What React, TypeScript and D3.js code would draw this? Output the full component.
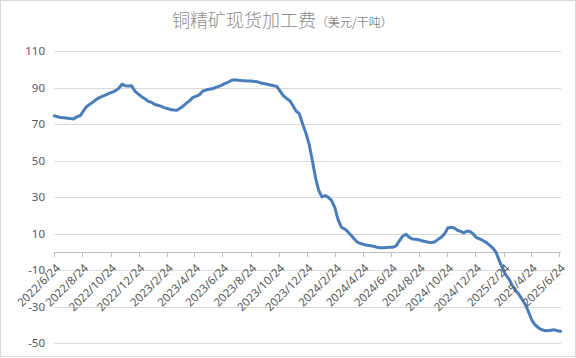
import React from "react";
import * as d3 from "d3";

const titleMain = "铜精矿现货加工费";
const titleUnit = "（美元/干吨）";

const startDate = "2022-06-24";
// weekly spot TC values (USD/dmt), one per week from startDate
const tcValues: number[] = [
  74.5, 74.0, 73.6, 73.4, 73.2, 73.0, 72.8, 74.0, 74.5, 77.0,
  79.5, 80.8, 82.0, 83.4, 84.5, 85.3, 86.0, 86.8, 87.5, 88.3,
  89.6, 91.8, 91.0, 90.8, 91.0, 88.0, 86.5, 85.0, 84.0, 82.5,
  82.0, 80.8, 80.3, 79.8, 79.0, 78.5, 78.0, 77.7, 77.5, 78.6,
  79.9, 81.5, 82.8, 84.6, 85.3, 86.0, 88.0, 88.6, 89.0, 89.3,
  90.0, 90.6, 91.3, 92.3, 93.0, 94.0, 94.2, 94.0, 93.8, 93.7,
  93.6, 93.5, 93.3, 93.1, 92.5, 92.2, 91.8, 91.4, 91.0, 90.6,
  88.0, 85.5, 84.0, 82.8, 80.0, 77.0, 75.5, 70.0, 65.0, 59.0,
  50.0, 40.5, 33.5, 30.0, 30.8, 29.8, 28.0, 24.0, 17.5, 13.5,
  12.5, 11.0, 9.0, 7.0, 5.2, 4.5, 4.0, 3.6, 3.3, 3.0,
  2.5, 2.2, 2.2, 2.3, 2.4, 2.5, 3.2, 6.0, 8.5, 9.6,
  8.0, 7.0, 6.8, 6.6, 6.0, 5.6, 5.2, 5.0, 5.5, 6.8,
  8.0, 9.8, 13.0, 13.4, 13.0, 11.8, 11.2, 10.4, 11.4, 11.0,
  9.5, 7.6, 7.0, 6.0, 5.0, 3.5, 2.0, -0.5, -5.0, -9.3,
  -12.8, -15.0, -18.5, -21.2, -23.2, -26.0, -28.8, -32.8, -37.3, -40.0,
  -41.5, -42.6, -43.2, -43.3, -43.0, -42.8, -43.3, -43.5,
];

const xTickLabels = [
  "2022/6/24", "2022/8/24", "2022/10/24", "2022/12/24", "2023/2/24",
  "2023/4/24", "2023/6/24", "2023/8/24", "2023/10/24", "2023/12/24",
  "2024/2/24", "2024/4/24", "2024/6/24", "2024/8/24", "2024/10/24",
  "2024/12/24", "2025/2/24", "2025/4/24", "2025/6/24",
];

const yTicks = [110, 90, 70, 50, 30, 10, -10, -30, -50];

const W = 576;
const H = 358;

const parseSlash = d3.timeParse("%Y/%m/%d");
const parseIso = d3.timeParse("%Y-%m-%d");

export default function App() {
  const start = parseIso(startDate) as Date;
  const tickDates = xTickLabels.map((s) => parseSlash(s) as Date);
  const data = tcValues.map((v, i) => ({ date: d3.timeWeek.offset(start, i), v }));

  const x = d3
    .scaleTime()
    .domain([tickDates[0], tickDates[tickDates.length - 1]])
    .range([54.3, 559.3]);
  const y = d3.scaleLinear().domain([-50, 110]).range([343, 51]);

  const line = d3
    .line<{ date: Date; v: number }>()
    .x((d) => x(d.date))
    .y((d) => y(d.v));

  const y0 = y(0);
  const labelFont = "'Noto Sans', 'Noto Sans CJK SC', sans-serif";

  return (
    <svg
      width={W}
      height={H}
      style={{ position: "absolute", left: 0, top: 0, background: "#fff" }}
    >
      <rect x={0.5} y={0.5} width={W - 1} height={356} fill="#fff" stroke="#d9d9d9" />
      {/* title */}
      <text
        x={172}
        y={27}
        fontWeight={300}
        style={{ fontFamily: "'Noto Sans CJK SC', sans-serif" }}
      >
        <tspan fontSize={18} fill="#8c8c8c">{titleMain}</tspan>
        <tspan fontSize={12} fill="#595959">{titleUnit}</tspan>
      </text>
      {/* gridlines */}
      {yTicks.map((t) => (
        <line
          key={"g" + t}
          x1={54.3}
          x2={561}
          y1={Math.round(y(t)) + 0.5}
          y2={Math.round(y(t)) + 0.5}
          stroke="#d9d9d9"
          strokeWidth={1}
        />
      ))}
      {/* y labels */}
      {yTicks.map((t) => (
        <text
          key={"yl" + t}
          x={45}
          y={y(t) + 4}
          textAnchor="end"
          fontSize={11.5}
          fill="#595959"
          style={{ fontFamily: labelFont }}
        >
          {t}
        </text>
      ))}
      {/* x axis at zero */}
      <line
        x1={54.3}
        x2={561}
        y1={Math.round(y0) + 0.5}
        y2={Math.round(y0) + 0.5}
        stroke="#bfbfbf"
      />
      {tickDates.map((d, i) => (
        <line
          key={"t" + i}
          x1={Math.round(x(d)) + 0.5}
          x2={Math.round(x(d)) + 0.5}
          y1={Math.round(y0)}
          y2={Math.round(y0) + 5}
          stroke="#bfbfbf"
        />
      ))}
      {/* series */}
      <path
        d={line(data) || ""}
        fill="none"
        stroke="#4a7ebb"
        strokeWidth={3}
        strokeLinejoin="round"
        strokeLinecap="round"
      />
      {/* x labels */}
      {tickDates.map((d, i) => (
        <text
          key={"xl" + i}
          transform={`translate(${x(d) + 6.5},${y0 + 17}) rotate(-45)`}
          textAnchor="end"
          fontSize={11.5}
          fill="#595959"
          style={{ fontFamily: labelFont }}
        >
          {xTickLabels[i]}
        </text>
      ))}
    </svg>
  );
}
